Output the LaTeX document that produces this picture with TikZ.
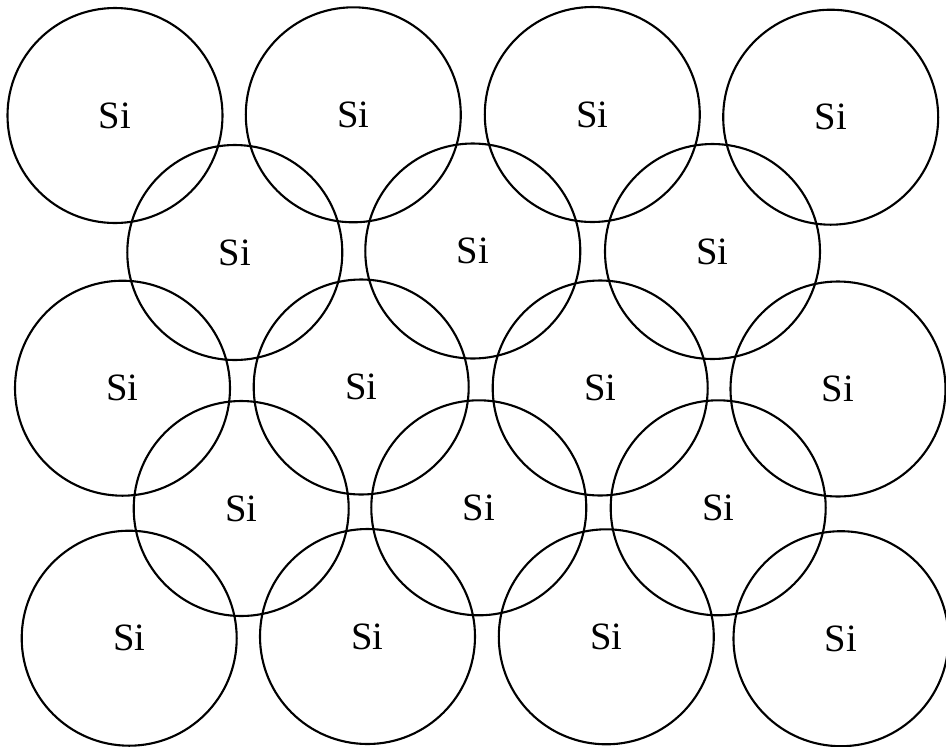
\documentclass[tikz,border=0pt]{standalone}
\usepackage{fontspec}
\setmainfont{Liberation Serif}
\usepackage{tikz}

\begin{document}
\begin{tikzpicture}[atom/.style={draw,circle,minimum size=2.15cm,inner sep=0pt,line width=0.6pt,
    font=\fontsize{11}{13}\selectfont}]
\useasboundingbox (0,0) rectangle (9.46,-7.47);
% ---- row 1 ----
\node[atom] (a11) at (1.150,-1.155) {Si};
\node[atom] (a12) at (3.533,-1.148) {Si};
\node[atom] (a13) at (5.923,-1.145) {Si};
\node[atom] (a14) at (8.307,-1.172) {Si};
% ---- row 2 (shifted half a step) ----
\node[atom] (a21) at (2.348,-2.525) {Si};
\node[atom] (a22) at (4.728,-2.510) {Si};
\node[atom] (a23) at (7.125,-2.515) {Si};
% ---- row 3 ----
\node[atom] (a31) at (1.225,-3.882) {Si};
\node[atom] (a32) at (3.612,-3.870) {Si};
\node[atom] (a33) at (6.002,-3.880) {Si};
\node[atom] (a34) at (8.380,-3.890) {Si};
% ---- row 4 ----
\node[atom] (a41) at (2.412,-5.085) {Si};
\node[atom] (a42) at (4.788,-5.078) {Si};
\node[atom] (a43) at (7.182,-5.078) {Si};
% ---- row 5 ----
\node[atom] (a51) at (1.292,-6.382) {Si};
\node[atom] (a52) at (3.675,-6.365) {Si};
\node[atom] (a53) at (6.063,-6.368) {Si};
\node[atom] (a54) at (8.410,-6.387) {Si};
\end{tikzpicture}
\end{document}
